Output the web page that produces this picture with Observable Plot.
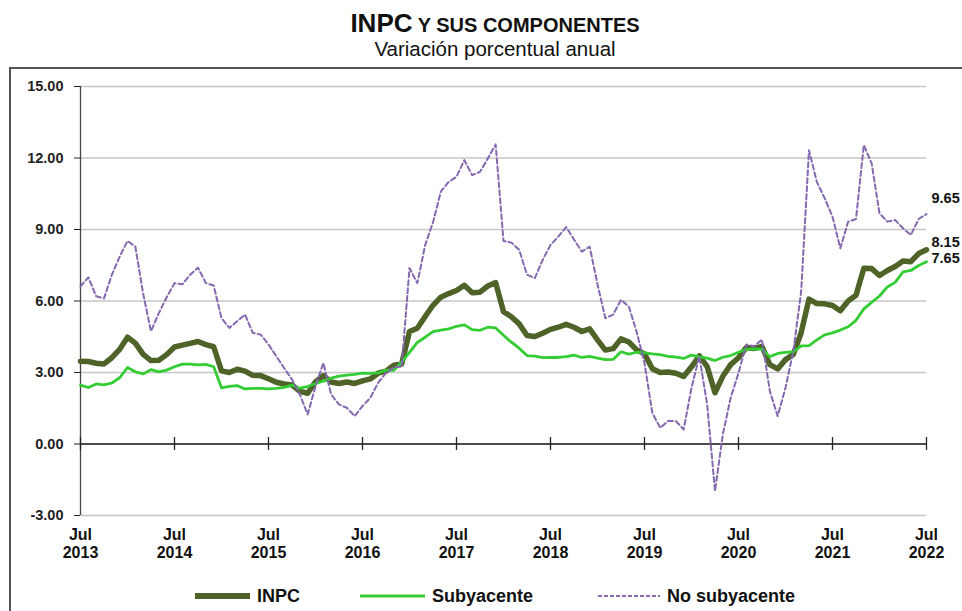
<!DOCTYPE html>
<html><head><meta charset="utf-8">
<script src="https://cdn.jsdelivr.net/npm/d3@7"></script>
<script src="https://cdn.jsdelivr.net/npm/@observablehq/plot@0.6"></script>
<style>
body{margin:0;background:#fff;}
#chart svg{display:block;}
</style></head><body><div id="chart"></div>
<script>
// Monthly series, Jul 2013 ... Jul 2022 (109 months)
const inpc = [
  3.47,3.46,3.39,3.36,3.62,3.97,
  4.48,4.23,3.76,3.50,3.51,3.75,4.07,4.15,4.22,4.30,4.17,4.08,
  3.07,3.00,3.14,3.06,2.88,2.87,2.74,2.59,2.52,2.48,2.21,2.13,
  2.61,2.87,2.60,2.54,2.60,2.54,2.65,2.73,2.97,3.06,3.31,3.36,
  4.72,4.86,5.35,5.82,6.16,6.31,6.44,6.66,6.35,6.37,6.63,6.77,
  5.55,5.34,5.04,4.55,4.51,4.65,4.81,4.90,5.02,4.90,4.72,4.83,
  4.37,3.94,4.00,4.41,4.28,3.95,3.78,3.16,3.00,3.02,2.97,2.83,
  3.24,3.70,3.25,2.15,2.84,3.33,3.62,4.05,4.01,4.09,3.33,3.15,
  3.54,3.76,4.67,6.08,5.89,5.88,5.81,5.59,6.00,6.24,7.37,7.36,
  7.07,7.28,7.45,7.68,7.65,7.99,8.15
];
const subyacente = [
  2.47,2.37,2.52,2.48,2.56,2.78,
  3.21,3.03,2.94,3.12,3.03,3.10,3.24,3.35,3.35,3.32,3.34,3.24,
  2.36,2.42,2.45,2.31,2.33,2.33,2.31,2.33,2.38,2.47,2.34,2.41,
  2.54,2.64,2.76,2.85,2.89,2.92,2.97,2.96,2.98,3.10,3.09,3.44,
  3.84,4.26,4.48,4.72,4.78,4.83,4.94,5.00,4.80,4.77,4.90,4.87,
  4.56,4.27,4.02,3.71,3.69,3.62,3.63,3.63,3.67,3.73,3.63,3.68,
  3.60,3.54,3.55,3.87,3.77,3.85,3.82,3.78,3.75,3.68,3.65,3.59,
  3.73,3.66,3.60,3.50,3.64,3.71,3.85,3.97,3.99,3.98,3.66,3.80,
  3.84,3.87,4.12,4.13,4.37,4.58,4.66,4.78,4.92,5.19,5.67,5.94,
  6.21,6.59,6.78,7.22,7.28,7.49,7.65
];
const noSubyacente = [
  6.61,6.99,6.20,6.11,7.10,7.86,
  8.52,8.28,6.30,4.73,5.49,6.16,6.75,6.70,7.10,7.40,6.75,6.65,
  5.28,4.87,5.15,5.43,4.66,4.59,4.18,3.68,3.19,2.71,2.08,1.24,
  2.42,3.40,2.08,1.66,1.52,1.17,1.59,1.94,2.57,2.98,3.22,3.25,
  7.38,6.75,8.35,9.30,10.59,11.00,11.21,11.91,11.28,11.42,11.98,12.57,
  8.52,8.45,8.15,7.10,6.96,7.73,8.35,8.70,9.10,8.58,8.07,8.28,
  6.70,5.28,5.43,6.05,5.77,4.70,3.40,1.30,0.68,0.96,0.96,0.61,
  2.36,3.68,1.66,-1.97,0.40,1.94,2.98,4.17,4.10,4.38,2.22,1.17,
  2.36,3.89,6.40,12.33,11.00,10.31,9.54,8.21,9.33,9.44,12.54,11.77,
  9.68,9.33,9.40,9.05,8.77,9.44,9.65
];
const yTicks = [-3, 0, 3, 6, 9, 12, 15];
const xTickMonths = [0, 12, 24, 36, 48, 60, 72, 84, 96, 108];
const xTickLabels = ["Jul\n2013","Jul\n2014","Jul\n2015","Jul\n2016","Jul\n2017","Jul\n2018","Jul\n2019","Jul\n2020","Jul\n2021","Jul\n2022"];
const seriesNames = ["INPC", "Subyacente", "No subyacente"];
const titleMain = "INPC";
const titleRest = " Y SUS COMPONENTES";
const subtitle = "Variación porcentual anual";

const rows = inpc.map((v, i) => ({i, inpc: v, sub: subyacente[i], nos: noSubyacente[i]}));
const last = rows[rows.length - 1];

const NARROW = "'Liberation Sans Narrow','Arial Narrow','Liberation Sans',Arial,sans-serif";
const ARIAL = "'Liberation Sans',Arial,sans-serif";
const C_INPC = "#4f6228", C_SUB = "#33cc33", C_NOS = "#8468b0";

const chart = Plot.plot({
  width: 962, height: 611,
  marginLeft: 80, marginRight: 36, marginTop: 86, marginBottom: 96,
  x: {domain: [0, 108], axis: null},
  y: {domain: [-3, 15], axis: null},
  style: {fontFamily: ARIAL, background: "white", overflow: "hidden"},
  marks: [
    Plot.ruleY(yTicks.filter(d => d !== 0), {stroke: "#c6c6c6", strokeWidth: 1.3}),
    Plot.ruleY([0], {stroke: "#111", strokeWidth: 1.3}),
    Plot.ruleX([0], {y1: -3, y2: 15, stroke: "#444", strokeWidth: 1.3}),
    Plot.axisY({ticks: yTicks, tickFormat: d => d.toFixed(2), tickSize: 6, tickPadding: 11,
      fontSize: 14.5, fontWeight: "bold", color: "#222", fontFamily: ARIAL}),
    Plot.ruleX(xTickMonths, {x: d => d, y1: -0.27, y2: 0.27, stroke: "#222", strokeWidth: 1.3}),
    Plot.text(xTickMonths, {x: d => d, y: -3, text: xTickLabels, lineAnchor: "top", dy: 12,
      lineHeight: 1.12, fontSize: 16, fontWeight: "bold", fill: "#111", fontFamily: NARROW}),
    Plot.line(rows, {x: "i", y: "inpc", stroke: C_INPC, strokeWidth: 5.5, strokeLinejoin: "round"}),
    Plot.line(rows, {x: "i", y: "sub", stroke: C_SUB, strokeWidth: 2.8}),
    Plot.line(rows, {x: "i", y: "nos", stroke: C_NOS, strokeWidth: 2, strokeDasharray: "5,3"}),
    Plot.text([last], {x: "i", y: "nos", text: d => d.nos.toFixed(2), dx: 5, dy: -16, textAnchor: "start", fontSize: 14.5, fontWeight: "bold", fill: "#111"}),
    Plot.text([last], {x: "i", y: "inpc", text: d => d.inpc.toFixed(2), dx: 5, dy: -7, textAnchor: "start", fontSize: 14.5, fontWeight: "bold", fill: "#111"}),
    Plot.text([last], {x: "i", y: "sub", text: d => d.sub.toFixed(2), dx: 5, dy: -3, textAnchor: "start", fontSize: 14.5, fontWeight: "bold", fill: "#111"})
  ]
});

const svg = d3.select(chart);
// outer box
svg.insert("rect", ":first-child").attr("x", 10).attr("y", 68).attr("width", 970).attr("height", 560)
  .attr("fill", "none").attr("stroke", "#555").attr("stroke-width", 2);
// title
const t = svg.append("text").attr("x", 495).attr("y", 32).attr("text-anchor", "middle")
  .attr("font-family", NARROW).attr("font-weight", "bold").attr("fill", "#111");
t.append("tspan").attr("font-size", 26).text(titleMain);
t.append("tspan").attr("font-size", 20).text(titleRest);
svg.append("text").attr("x", 495).attr("y", 56).attr("text-anchor", "middle")
  .attr("font-family", NARROW).attr("font-size", 20.5).attr("fill", "#111").text(subtitle);
// legend
const leg = [
  {x1: 195, x2: 250, tx: 257, color: C_INPC, w: 6, dash: null},
  {x1: 360, x2: 425, tx: 432, color: C_SUB, w: 3, dash: null},
  {x1: 598, x2: 660, tx: 667, color: C_NOS, w: 2, dash: "4,2"}
];
leg.forEach((l, k) => {
  svg.append("line").attr("x1", l.x1).attr("x2", l.x2).attr("y1", 596).attr("y2", 596)
    .attr("stroke", l.color).attr("stroke-width", l.w).attr("stroke-dasharray", l.dash);
  svg.append("text").attr("x", l.tx).attr("y", 602).attr("text-anchor", "start").attr("font-family", NARROW)
    .attr("font-weight", "bold").attr("font-size", 18).attr("fill", "#111").text(seriesNames[k]);
});
document.getElementById("chart").append(chart);
</script>
</body></html>
